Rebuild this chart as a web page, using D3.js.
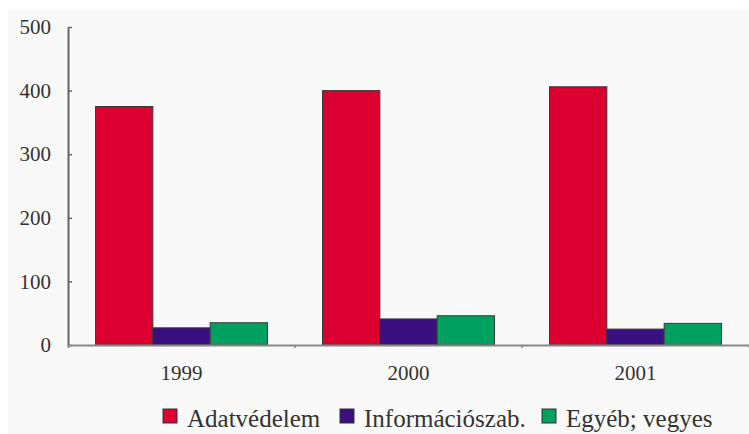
<!DOCTYPE html>
<html>
<head>
<meta charset="utf-8">
<script src="https://cdn.jsdelivr.net/npm/d3@7"></script>
<style>
  html, body { margin: 0; padding: 0; background: #ffffff; }
  svg { display: block; }
</style>
</head>
<body>
<svg id="chart" width="749" height="434"></svg>
<script>
const categories = ["1999", "2000", "2001"];
const seriesNames = ["Adatvédelem", "Információszab.", "Egyéb; vegyes"];
const adatvedelem = [375, 400, 406];
const informacio = [27, 41, 25];
const egyeb = [35, 46, 34];
const yTicks = [0, 100, 200, 300, 400, 500];
const colors = ["#dc0030", "#3a1080", "#00a060"];

(function () {
const FONT = "'Liberation Serif', 'Times New Roman', serif";
const seriesValues = [adatvedelem, informacio, egyeb];

const svg = d3.select("#chart");
svg.append("rect").attr("x", 8).attr("y", 10).attr("width", 741).attr("height", 424).attr("fill", "#f9f9f9");

const mLeft = 68, mRight = 749, mTop = 27, mBottom = 345;

const x = d3.scaleBand().domain(categories).range([mLeft, mRight]).paddingInner(0).paddingOuter(0);
const x1 = d3.scaleBand().domain(seriesNames).range([0, x.bandwidth()]).paddingInner(0).paddingOuter(0.48);
const y = d3.scaleLinear().domain([0, 500]).range([mBottom, mTop]);

// bars
const g = svg.append("g");
categories.forEach((c, ci) => {
  seriesNames.forEach((s, si) => {
    const v = seriesValues[si][ci];
    g.append("rect")
      .attr("x", x(c) + x1(s))
      .attr("y", y(v))
      .attr("width", x1.bandwidth())
      .attr("height", y(0) - y(v))
      .attr("fill", colors[si])
      .attr("stroke", "#3a3a3a")
      .attr("stroke-width", 1);
  });
});

// y axis
const yAxis = d3.axisLeft(y).tickValues(yTicks).tickSizeInner(-4).tickSizeOuter(0).tickPadding(17);
const ya = svg.append("g").attr("transform", `translate(${mLeft},0)`).call(yAxis);
ya.select(".domain").attr("stroke", "#666").attr("stroke-width", 2);
ya.selectAll(".tick line").attr("stroke", "#666").attr("stroke-width", 1.5);
ya.selectAll(".tick text").attr("font-size", 21).attr("fill", "#333").attr("font-family", FONT);

// x axis
const xAxis = d3.axisBottom(x).tickSize(0).tickSizeOuter(3).tickPadding(20);
const xa = svg.append("g").attr("transform", `translate(0,${mBottom})`).call(xAxis);
xa.select(".domain").attr("stroke", "#888").attr("stroke-width", 2);
xa.selectAll(".tick text").attr("font-size", 21).attr("fill", "#333").attr("font-family", FONT);
// boundary ticks
xa.selectAll(".bound").data(categories.slice(1)).enter().append("line")
  .attr("x1", d => x(d)).attr("x2", d => x(d)).attr("y1", 0).attr("y2", 3)
  .attr("stroke", "#888").attr("stroke-width", 1.5);

// legend
const legendX = [163, 340, 542];
const legend = svg.append("g");
seriesNames.forEach((s, i) => {
  legend.append("rect").attr("x", legendX[i]).attr("y", 409).attr("width", 14).attr("height", 14)
    .attr("fill", colors[i]).attr("stroke", "#333").attr("stroke-width", 1);
  legend.append("text").attr("x", legendX[i] + 24).attr("y", 427)
    .attr("font-size", 25).attr("font-family", FONT).attr("fill", "#333").text(s);
});
})();
</script>
</body>
</html>
